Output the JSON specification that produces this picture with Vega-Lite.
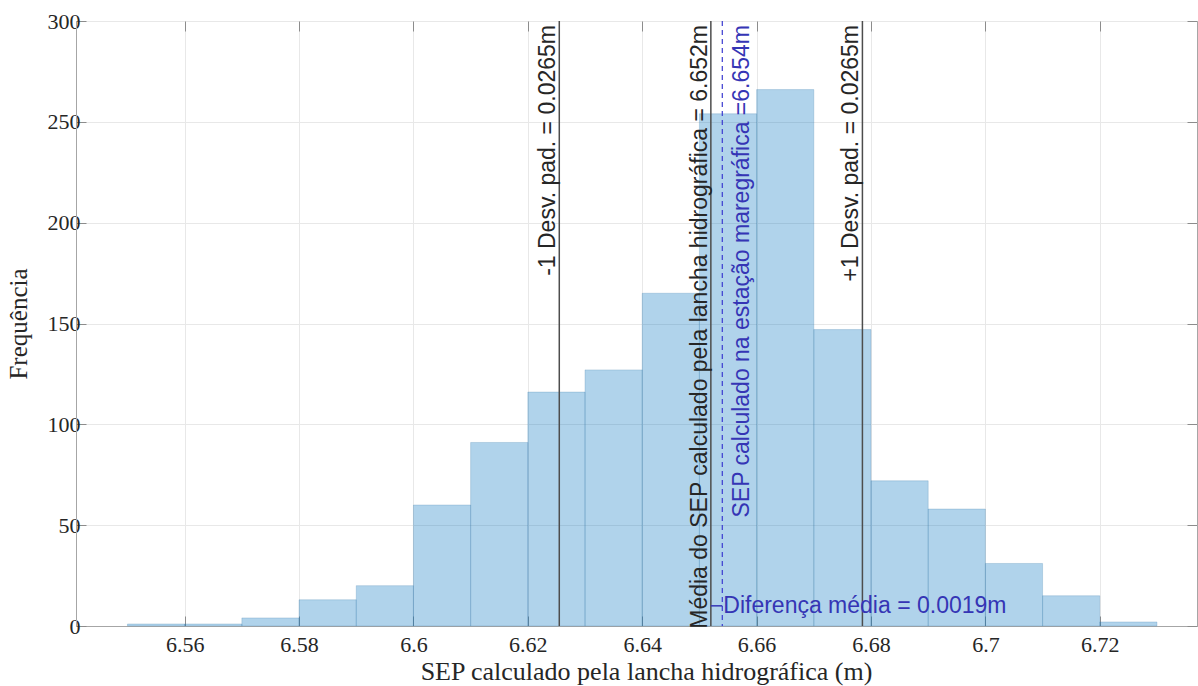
{
  "$schema": "https://vega.github.io/schema/vega-lite/v6.json",
  "width": 1121,
  "height": 605,
  "autosize": {"type": "none"},
  "padding": {"left": 76, "top": 21, "right": 1, "bottom": 60},
  "background": "white",
  "config": {
    "view": {"stroke": "#a6a6a6", "strokeWidth": 1},
    "axis": {
      "labelFont": "Liberation Serif",
      "labelFontSize": 22,
      "labelColor": "#262626",
      "titleFont": "Liberation Serif",
      "titleFontSize": 25,
      "titleFontWeight": "normal",
      "titleColor": "#262626",
      "gridColor": "#e8e8e8",
      "gridWidth": 1,
      "domainColor": "#a6a6a6",
      "tickColor": "#8c8c8c",
      "tickSize": -10,
      "labelPadding": 6
    }
  },
  "datasets": {
    "bins": [
      {"bin_start": 6.55, "bin_end": 6.56, "count": 1},
      {"bin_start": 6.56, "bin_end": 6.57, "count": 1},
      {"bin_start": 6.57, "bin_end": 6.58, "count": 4},
      {"bin_start": 6.58, "bin_end": 6.59, "count": 13},
      {"bin_start": 6.59, "bin_end": 6.60, "count": 20},
      {"bin_start": 6.60, "bin_end": 6.61, "count": 60},
      {"bin_start": 6.61, "bin_end": 6.62, "count": 91},
      {"bin_start": 6.62, "bin_end": 6.63, "count": 116},
      {"bin_start": 6.63, "bin_end": 6.64, "count": 127},
      {"bin_start": 6.64, "bin_end": 6.65, "count": 165},
      {"bin_start": 6.65, "bin_end": 6.66, "count": 254},
      {"bin_start": 6.66, "bin_end": 6.67, "count": 266},
      {"bin_start": 6.67, "bin_end": 6.68, "count": 147},
      {"bin_start": 6.68, "bin_end": 6.69, "count": 72},
      {"bin_start": 6.69, "bin_end": 6.70, "count": 58},
      {"bin_start": 6.70, "bin_end": 6.71, "count": 31},
      {"bin_start": 6.71, "bin_end": 6.72, "count": 15},
      {"bin_start": 6.72, "bin_end": 6.73, "count": 2}
    ],
    "grayLines": [
      {"x": 6.6255, "label": "-1 Desv. pad. = 0.0265m"},
      {"x": 6.652, "label": "Média do SEP calculado pela lancha hidrográfica = 6.652m"},
      {"x": 6.6785, "label": "+1 Desv. pad. = 0.0265m"}
    ],
    "blueLine": [
      {"x": 6.654, "label": "SEP calculado na estação maregráfica =6.654m"}
    ],
    "diff": [
      {"x": 6.652, "x2": 6.654, "y": 10, "label": "Diferença média = 0.0019m"}
    ]
  },
  "layer": [
    {
      "data": {"name": "bins"},
      "mark": {"type": "rect", "fill": "#0072BD", "fillOpacity": 0.31, "stroke": "#3f7fae", "strokeOpacity": 0.25, "strokeWidth": 1},
      "encoding": {
        "x": {
          "field": "bin_start", "type": "quantitative",
          "scale": {"domain": [6.541, 6.737], "nice": false, "zero": false},
          "axis": {
            "values": [6.56, 6.58, 6.6, 6.62, 6.64, 6.66, 6.68, 6.7, 6.72],
            "format": ".2~f",
            "labelPadding": 18,
            "title": "SEP calculado pela lancha hidrográfica (m)",
            "titleFontSize": 26,
            "titleX": 570,
            "titlePadding": 3,
            "grid": true
          }
        },
        "x2": {"field": "bin_end"},
        "y": {
          "field": "count", "type": "quantitative",
          "scale": {"domain": [0, 300], "nice": false},
          "axis": {
            "values": [0, 50, 100, 150, 200, 250, 300],
            "title": "Frequência",
            "titlePadding": 16,
            "grid": true
          }
        },
        "y2": {"datum": 0}
      }
    },
    {
      "data": {"name": "grayLines"},
      "mark": {"type": "rule", "color": "#4d4d4d", "strokeWidth": 1.5},
      "encoding": {
        "x": {"field": "x", "type": "quantitative", "axis": {"orient": "top", "labels": false, "grid": false, "domain": false, "title": null, "values": [6.56, 6.58, 6.6, 6.62, 6.64, 6.66, 6.68, 6.7, 6.72]}}
      }
    },
    {
      "data": {"name": "blueLine"},
      "mark": {"type": "rule", "color": "#3b3bd0", "strokeWidth": 1.2, "strokeDash": [5, 4]},
      "encoding": {
        "x": {"field": "x", "type": "quantitative", "axis": null}
      }
    },
    {
      "data": {"name": "grayLines"},
      "mark": {"type": "text", "angle": 270, "align": "right", "baseline": "alphabetic", "dy": -4, "font": "Liberation Sans", "fontSize": 23, "color": "#262626"},
      "encoding": {
        "x": {"field": "x", "type": "quantitative", "axis": null},
        "y": {"datum": 298, "type": "quantitative", "axis": {"orient": "right", "labels": false, "grid": false, "domain": false, "title": null, "values": [0, 50, 100, 150, 200, 250, 300]}},
        "text": {"field": "label"}
      }
    },
    {
      "data": {"name": "blueLine"},
      "mark": {"type": "text", "angle": 270, "align": "right", "baseline": "top", "dy": 9, "font": "Liberation Sans", "fontSize": 23, "color": "#3535b5"},
      "encoding": {
        "x": {"field": "x", "type": "quantitative", "axis": null},
        "y": {"datum": 298, "type": "quantitative", "axis": null},
        "text": {"field": "label"}
      }
    },
    {
      "data": {"name": "diff"},
      "mark": {"type": "rule", "color": "#3535b5", "strokeWidth": 1.5},
      "encoding": {
        "x": {"field": "x", "type": "quantitative", "axis": null},
        "x2": {"field": "x2"},
        "y": {"field": "y", "type": "quantitative", "axis": null}
      }
    },
    {
      "data": {"name": "diff"},
      "mark": {"type": "text", "align": "left", "baseline": "middle", "dx": 1, "font": "Liberation Sans", "fontSize": 23, "color": "#3535b5"},
      "encoding": {
        "x": {"field": "x2", "type": "quantitative", "axis": null},
        "y": {"field": "y", "type": "quantitative", "axis": null},
        "text": {"field": "label"}
      }
    }
  ],
  "resolve": {"axis": {"x": "independent", "y": "independent"}}
}
